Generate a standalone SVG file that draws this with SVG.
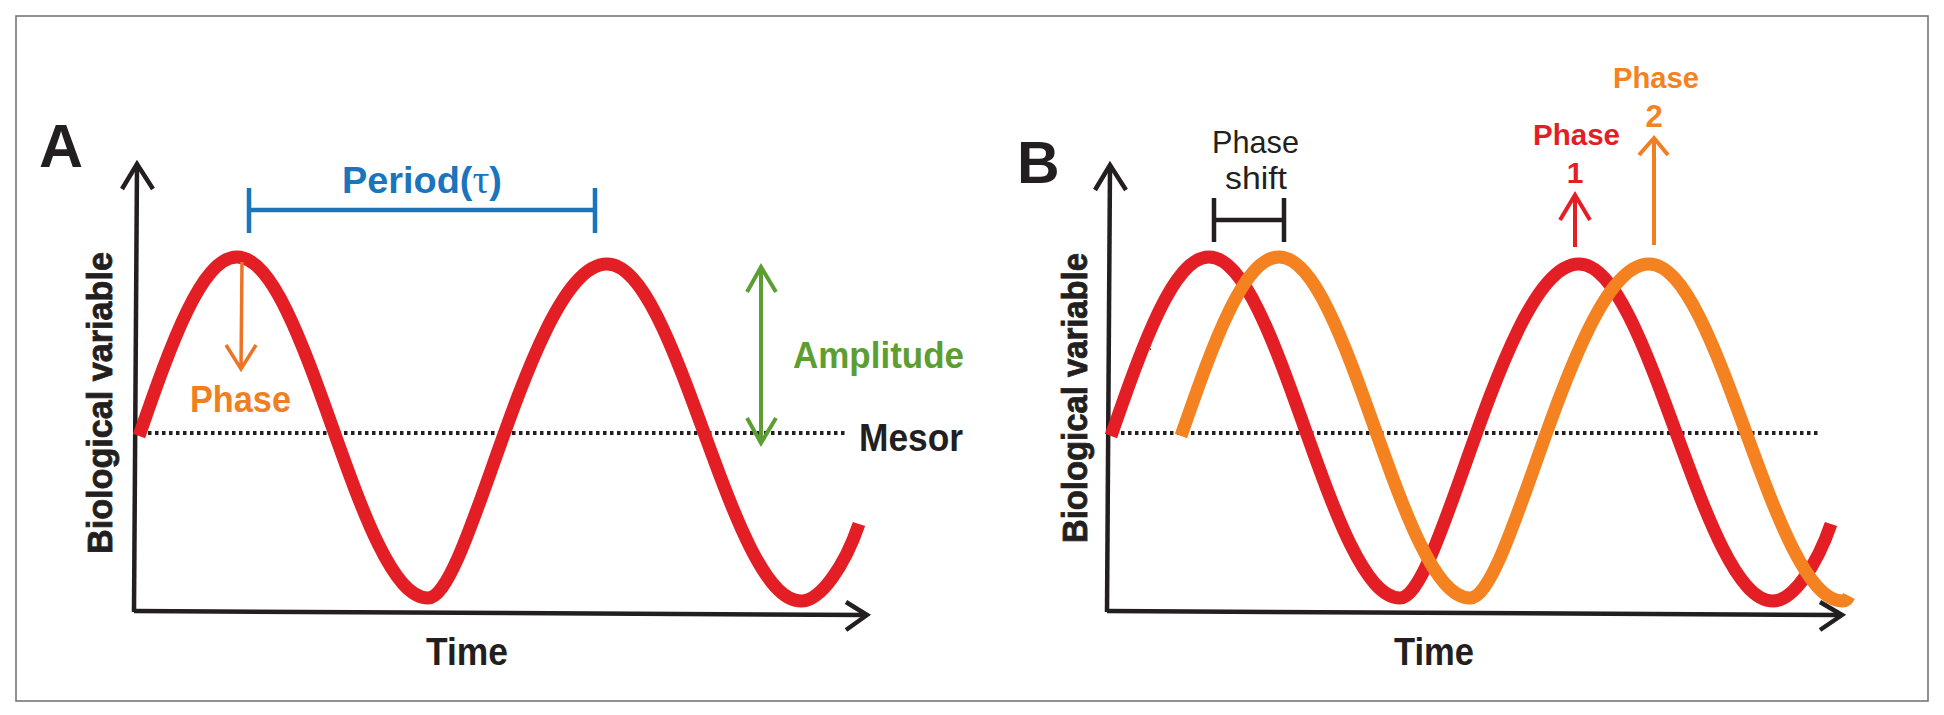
<svg xmlns="http://www.w3.org/2000/svg" width="1944" height="715" viewBox="0 0 1944 715">
<style>
.ax{fill:none;stroke:#231f20;stroke-width:4.5;stroke-linecap:butt;stroke-linejoin:miter}
.mesor{fill:none;stroke:#231f20;stroke-width:4;stroke-dasharray:3.5 3.5}
.red{fill:none;stroke:#e31e24;stroke-width:13;stroke-linecap:butt}
.org{fill:none;stroke:#f58220;stroke-width:13;stroke-linecap:butt}
.lbl{font-family:"Liberation Sans",Arial,sans-serif;font-weight:bold}
.ylb{font-family:"Liberation Sans",Arial,sans-serif;font-weight:bold;stroke:#231f20;stroke-width:0.8}
.reg{font-family:"Liberation Sans",Arial,sans-serif;font-weight:normal}
</style>
<defs>
<path id="wave" d="M139,436 C171,344 201.5,257 237,257 C306.6,257 358.4,598 428,598 C470,598 532,264 607,264 C677.7,264 730.3,601 801,601 C821,601 845,565 859,524"/>
<path id="wave2" d="M139,436 C171,344 201.5,257 237,257 C306.6,257 358.4,598 428,598 C470,598 532,264 607,264 C677.7,264 730.3,601 801,601 C803,601 805,600 807,596"/>
</defs>
<rect x="16" y="16" width="1912" height="685" fill="#fff" stroke="#6d6e71" stroke-width="1.5"/>

<g id="panel-A">
  <g id="A-label"><text class="lbl" x="39" y="167" font-size="61" fill="#231f20">A</text></g>
  <g id="A-axes">
    <path class="ax" d="M137,165 L134,612"/>
    <path class="ax" d="M122,189 L137,164 L153,189"/>
    <path class="ax" d="M134,611 L866,615"/>
    <path class="ax" d="M846,602 L867,615 L846,630"/>
  </g>
  <g id="A-ylabel"><text class="ylb" transform="translate(112,403) rotate(-90)" text-anchor="middle" font-size="35" textLength="302" lengthAdjust="spacingAndGlyphs" fill="#231f20">Biological variable</text></g>
  <g id="A-xlabel"><text class="lbl" x="426" y="665" font-size="39" textLength="82" lengthAdjust="spacingAndGlyphs" fill="#231f20">Time</text></g>
  <g id="A-mesor"><path class="mesor" d="M134,433 L847,433"/></g>
  <g id="A-wave"><use href="#wave" class="red"/></g>
  <g id="A-period-label"><text class="lbl" x="342" y="193" font-size="36" textLength="160" lengthAdjust="spacingAndGlyphs" fill="#1b75bc">Period(<tspan font-family="'Liberation Serif',serif" font-weight="normal" font-size="40">τ</tspan>)</text></g>
  <g id="A-phase-label"><text class="lbl" x="190" y="412" font-size="37" textLength="101" lengthAdjust="spacingAndGlyphs" fill="#f07f22">Phase</text></g>
  <g id="A-amplitude-label"><text class="lbl" x="793" y="368" font-size="37" textLength="171" lengthAdjust="spacingAndGlyphs" fill="#5c9e31">Amplitude</text></g>
  <g id="A-mesor-label"><text class="lbl" x="859" y="451" font-size="38" textLength="104" lengthAdjust="spacingAndGlyphs" fill="#231f20">Mesor</text></g>
</g>

<g id="panel-B">
  <g id="B-label"><text class="lbl" x="1017" y="183" font-size="59" fill="#231f20">B</text></g>
  <g id="B-axes">
    <path class="ax" d="M1110,166 L1107,612"/>
    <path class="ax" d="M1095,190 L1110,165 L1126,190"/>
    <path class="ax" d="M1107,611 L1841,615"/>
    <path class="ax" d="M1820,602 L1842,615 L1820,630"/>
    <path d="M1147,344 L1151,350" stroke="#231f20" stroke-width="1"/>
  </g>
  <g id="B-ylabel"><text class="ylb" transform="translate(1087,398) rotate(-90)" text-anchor="middle" font-size="35" textLength="290" lengthAdjust="spacingAndGlyphs" fill="#231f20">Biological variable</text></g>
  <g id="B-xlabel"><text class="lbl" x="1394" y="665" font-size="39" textLength="80" lengthAdjust="spacingAndGlyphs" fill="#231f20">Time</text></g>
  <g id="B-mesor"><path class="mesor" d="M1107,433 L1819,433"/></g>
  <g id="B-wave-red"><use href="#wave" class="red" transform="translate(972,0)"/></g>
  <g id="B-wave-orange"><use href="#wave2" class="org" transform="translate(1042,0)"/></g>
  <g id="B-phaseshift-label">
    <text class="reg" x="1212" y="153" font-size="32" textLength="87" lengthAdjust="spacingAndGlyphs" fill="#231f20">Phase</text>
    <text class="reg" x="1225" y="189" font-size="32" textLength="62" lengthAdjust="spacingAndGlyphs" fill="#231f20">shift</text>
  </g>
  <g id="B-phase1-label">
    <text class="lbl" x="1533" y="145" font-size="30" textLength="87" lengthAdjust="spacingAndGlyphs" fill="#e31e24">Phase</text>
    <text class="lbl" x="1575" y="183" font-size="30" text-anchor="middle" fill="#e31e24">1</text>
  </g>
  <g id="B-phase2-label">
    <text class="lbl" x="1613" y="88" font-size="30" textLength="86" lengthAdjust="spacingAndGlyphs" fill="#f58220">Phase</text>
    <text class="lbl" x="1654" y="127" font-size="31" text-anchor="middle" fill="#f58220">2</text>
  </g>
</g>

<g id="connectors">
  <g id="period-bracket" fill="none" stroke="#1b75bc" stroke-width="4.5">
    <path d="M249,188 L249,233 M249,210 L595,210 M595,188 L595,233"/>
  </g>
  <g id="phase-arrow-A" fill="none" stroke="#ee7325" stroke-width="3.5">
    <path d="M242,262 L241,368 M226,345 L241,369 L256,345"/>
  </g>
  <g id="amplitude-arrow" fill="none" stroke="#5c9e31" stroke-width="4">
    <path d="M761,268 L761,442 M747,292 L761,267 L776,292 M747,418 L761,443 L776,418"/>
  </g>
  <g id="phaseshift-bracket" fill="none" stroke="#231f20" stroke-width="4.5">
    <path d="M1214,198 L1214,242 M1214,220 L1284,220 M1284,198 L1284,242"/>
  </g>
  <g id="phase1-arrow" fill="none" stroke="#e31e24" stroke-width="4">
    <path d="M1575,247 L1575,196 M1560,220 L1575,195 L1590,220"/>
  </g>
  <g id="phase2-arrow" fill="none" stroke="#f07f22" stroke-width="4">
    <path d="M1654,245 L1654,139 M1639,155 L1654,138 L1668,155"/>
  </g>
</g>
</svg>
